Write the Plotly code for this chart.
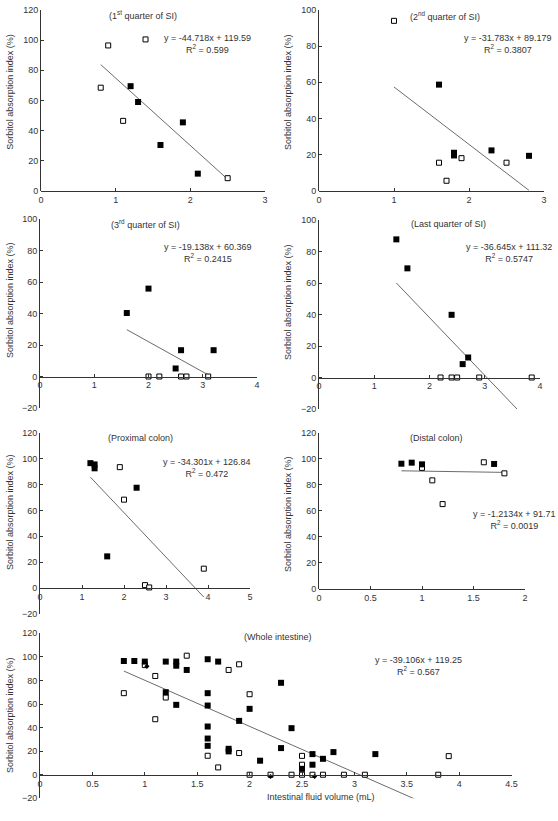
import plotly.graph_objects as go

W, H = 558, 821

# ---------------- data ----------------
# Panel 1: 1st quarter of SI
p1_open_x = [0.8, 0.9, 1.1, 1.4, 2.5]
p1_open_y = [68.5, 96.5, 46.5, 100.5, 8.5]
p1_fill_x = [1.2, 1.3, 1.6, 1.9, 2.1]
p1_fill_y = [69.5, 59.0, 30.5, 45.5, 11.5]
p1_fit = (-44.718, 119.59)
p1_fit_x = [0.8, 2.5]

# Panel 2: 2nd quarter of SI
p2_open_x = [1.0, 1.6, 1.7, 1.9, 2.5]
p2_open_y = [94.0, 15.5, 5.5, 18.0, 15.5]
p2_fill_x = [1.6, 1.8, 1.8, 2.3, 2.8]
p2_fill_y = [58.7, 21.0, 19.5, 22.3, 19.3]
p2_fit = (-31.783, 89.179)
p2_fit_x = [1.0, 2.8]

# Panel 3: 3rd quarter of SI
p3_open_x = [2.0, 2.2, 2.6, 2.7, 3.1]
p3_open_y = [0, 0, 0, 0, 0]
p3_fill_x = [1.6, 2.0, 2.5, 2.6, 3.2]
p3_fill_y = [40.3, 55.8, 5.1, 16.7, 16.7]
p3_fit = (-19.138, 60.369)
p3_fit_x = [1.6, 3.1]

# Panel 4: Last quarter of SI
p4_open_x = [2.2, 2.4, 2.5, 2.9, 3.85]
p4_open_y = [0, 0, 0, 0, 0]
p4_fill_x = [1.4, 1.6, 2.4, 2.6, 2.7]
p4_fill_y = [87.7, 69.3, 39.8, 8.5, 12.7]
p4_fit = (-36.645, 111.32)
p4_fit_x = [1.4, 3.85]

# Panel 5: Proximal colon
p5_open_x = [1.9, 2.0, 2.5, 2.6, 3.9]
p5_open_y = [93.4, 68.3, 2.3, 0.5, 15.0]
p5_fill_x = [1.2, 1.3, 1.3, 1.6, 2.3]
p5_fill_y = [96.5, 95.5, 92.5, 24.5, 77.5]
p5_fit = (-34.301, 126.84)
p5_fit_x = [1.2, 3.9]

# Panel 6: Distal colon
p6_open_x = [1.0, 1.1, 1.2, 1.6, 1.8]
p6_open_y = [93.0, 83.4, 65.2, 97.3, 88.8]
p6_fill_x = [0.8, 0.9, 1.0, 1.7]
p6_fill_y = [96.2, 97.0, 95.7, 96.0]
p6_fit = (-1.2134, 91.71)
p6_fit_x = [0.8, 1.8]

# Panel 7: Whole intestine
p7_fill_x = [0.8, 0.9, 1.0, 1.2, 1.3, 1.3, 1.4, 1.6, 1.7, 1.2, 1.3, 1.6, 1.6, 1.6,
             1.6, 1.6, 1.8, 1.8, 1.9, 2.0, 2.1, 2.3, 2.3, 2.4, 2.5, 2.6, 2.6, 2.7,
             2.8, 3.2]
p7_fill_y = [96.5, 96.5, 96.0, 96.0, 96.0, 92.5, 88.9, 98.0, 96.0, 70.0, 59.3, 69.2,
             58.7, 40.9, 30.7, 24.5, 22.0, 19.8, 45.7, 55.9, 11.9, 78.0, 22.6, 39.5,
             5.0, 17.5, 8.5, 13.5, 19.2, 17.5]
p7_open_x = [0.8, 1.0, 1.1, 1.1, 1.2, 1.4, 1.6, 1.7, 1.8, 1.9, 1.9, 2.0, 2.0, 2.2,
             2.4, 2.5, 2.5, 2.5, 2.6, 2.7, 2.9, 3.1, 3.8, 3.9]
p7_open_y = [69.2, 93.0, 83.8, 47.1, 65.5, 101.0, 16.1, 6.2, 88.9, 93.7, 18.4, 68.3,
             0, 0, 0, 0, 16.0, 8.5, 0, 0, 0, 0, 0, 15.8]
p7_diam_x = [1.02, 2.2, 2.62]
p7_diam_y = [92.0, -1.5, -1.5]
p7_fit = (-39.106, 119.25)
p7_fit_x = [0.8, 3.9]

# ---------------- layout helpers ----------------
FONT = "Liberation Sans"
FS = 9
TXT = "#333333"
AX = "#333333"

def fx(px):
    return px / W

def fy(py):
    return 1 - py / H

panels = [
    dict(ox=p1_open_x, oy=p1_open_y, fx=p1_fill_x, fy=p1_fill_y, fit=p1_fit, fitx=p1_fit_x,
         xr=[0, 3], xd=1, yr=[0, 120], yd=20, xp=(41, 265), yp=(10, 191)),
    dict(ox=p2_open_x, oy=p2_open_y, fx=p2_fill_x, fy=p2_fill_y, fit=p2_fit, fitx=p2_fit_x,
         xr=[0, 3], xd=1, yr=[0, 100], yd=20, xp=(319, 544), yp=(10, 190.7)),
    dict(ox=p3_open_x, oy=p3_open_y, fx=p3_fill_x, fy=p3_fill_y, fit=p3_fit, fitx=p3_fit_x,
         xr=[0, 4], xd=1, yr=[-20, 100], yd=20, xp=(40, 257), yp=(219, 408)),
    dict(ox=p4_open_x, oy=p4_open_y, fx=p4_fill_x, fy=p4_fill_y, fit=p4_fit, fitx=p4_fit_x,
         xr=[0, 4], xd=1, yr=[-20, 100], yd=20, xp=(319, 540), yp=(220, 409)),
    dict(ox=p5_open_x, oy=p5_open_y, fx=p5_fill_x, fy=p5_fill_y, fit=p5_fit, fitx=p5_fit_x,
         xr=[0, 5], xd=1, yr=[-20, 120], yd=20, xp=(40, 250), yp=(432.7, 614)),
    dict(ox=p6_open_x, oy=p6_open_y, fx=p6_fill_x, fy=p6_fill_y, fit=p6_fit, fitx=p6_fit_x,
         xr=[0, 2], xd=0.5, yr=[0, 120], yd=20, xp=(319, 525), yp=(432.7, 589)),
    dict(ox=p7_open_x, oy=p7_open_y, fx=p7_fill_x, fy=p7_fill_y, fit=p7_fit, fitx=p7_fit_x,
         xr=[0, 4.5], xd=0.5, yr=[-20, 120], yd=20, xp=(40, 511.6), yp=(633.3, 798.3)),
]

fig = go.Figure()
layout = {}

for i, p in enumerate(panels, start=1):
    sfx = "" if i == 1 else str(i)
    xa, ya = "x" + sfx, "y" + sfx
    xdom = [fx(p["xp"][0]), fx(p["xp"][1])]
    ydom = [fy(p["yp"][1]), fy(p["yp"][0])]
    y0, y1 = p["yr"]
    xpos = ydom[0] + (0 - y0) / (y1 - y0) * (ydom[1] - ydom[0])

    slope, icpt = p["fit"]
    fit_y = [slope * v + icpt for v in p["fitx"]]
    fig.add_trace(go.Scatter(x=p["fitx"], y=fit_y, mode="lines",
                             line=dict(color="#6b6b6b", width=1),
                             xaxis=xa, yaxis=ya, showlegend=False, hoverinfo="skip"))
    fig.add_trace(go.Scatter(x=p["ox"], y=p["oy"], mode="markers", cliponaxis=False,
                             marker=dict(symbol="square", size=5, color="white",
                                         line=dict(color="black", width=1)),
                             xaxis=xa, yaxis=ya, showlegend=False))
    fig.add_trace(go.Scatter(x=p["fx"], y=p["fy"], mode="markers", cliponaxis=False,
                             marker=dict(symbol="square", size=6, color="black",
                                         line=dict(color="black", width=0)),
                             xaxis=xa, yaxis=ya, showlegend=False))
    if i == 7:
        fig.add_trace(go.Scatter(x=p7_diam_x, y=p7_diam_y, mode="markers", cliponaxis=False,
                                 marker=dict(symbol="diamond", size=4, color="black"),
                                 xaxis=xa, yaxis=ya, showlegend=False))

    common = dict(showgrid=False, zeroline=False, showline=True, linecolor=AX, linewidth=1,
                  ticks="inside", ticklen=3, tickwidth=1, tickcolor=AX, automargin=False,
                  tickfont=dict(family=FONT, size=FS, color=TXT), fixedrange=True)
    layout["xaxis" + sfx] = dict(domain=xdom, range=p["xr"], dtick=p["xd"], tick0=0,
                                  anchor="free", position=xpos, **common)
    layout["yaxis" + sfx] = dict(domain=ydom, range=p["yr"], dtick=p["yd"], tick0=0,
                                  anchor=xa, **common)

fig.update_layout(**layout)

annots = [
    # titles
    ("(1<sup>st</sup> quarter of SI)", 143, 15),
    ("(2<sup>nd</sup> quarter of SI)", 444.7, 15.7),
    ("(3<sup>rd</sup> quarter of SI)", 145, 224.3),
    ("(Last quarter of SI)", 448.8, 224.3),
    ("(Proximal colon)", 140.5, 438.3),
    ("(Distal colon)", 436.8, 438.3),
    ("(Whole intestine)", 278, 637.3),
    # equations
    ("y = -44.718x + 119.59<br>R<sup>2</sup> = 0.599", 207, 44.2),
    ("y = -31.783x + 89.179<br>R<sup>2</sup> = 0.3807", 508, 44.2),
    ("y = -19.138x + 60.369<br>R<sup>2</sup> = 0.2415", 208.3, 253),
    ("y = -36.645x + 111.32<br>R<sup>2</sup> = 0.5747", 508.8, 253.3),
    ("y = -34.301x + 126.84<br>R<sup>2</sup> = 0.472", 206.7, 467.8),
    ("y = -1.2134x + 91.71<br>R<sup>2</sup> = 0.0019", 514.3, 520),
    ("y = -39.106x + 119.25<br>R<sup>2</sup> = 0.567", 418.5, 666.3),
    # x-axis title
    ("Intestinal fluid volume (mL)", 320.7, 797.3),
]
ann_list = []
for text, px, py in annots:
    ann_list.append(dict(text=text, x=fx(px), y=fy(py), xref="paper", yref="paper",
                         xanchor="center", yanchor="middle", showarrow=False, align="center",
                         font=dict(family=FONT, size=FS, color=TXT)))

ytitle_pos = [(10, 91.7), (288, 92), (10, 300), (288, 302), (10, 512), (288, 514), (10, 715)]
for px, py in ytitle_pos:
    ann_list.append(dict(text="Sorbitol absorption index (%)", x=fx(px), y=fy(py),
                         xref="paper", yref="paper", xanchor="center", yanchor="middle",
                         textangle=-90, showarrow=False,
                         font=dict(family=FONT, size=FS, color=TXT)))

fig.update_layout(width=W, height=H, autosize=False,
                  margin=dict(l=0, r=0, t=0, b=0, pad=0, autoexpand=False),
                  paper_bgcolor="white", plot_bgcolor="white",
                  annotations=ann_list, showlegend=False)

fig.write_html("out.html", config={"displayModeBar": False},
               post_script="document.body.style.margin='0';document.body.style.overflow='hidden';")
